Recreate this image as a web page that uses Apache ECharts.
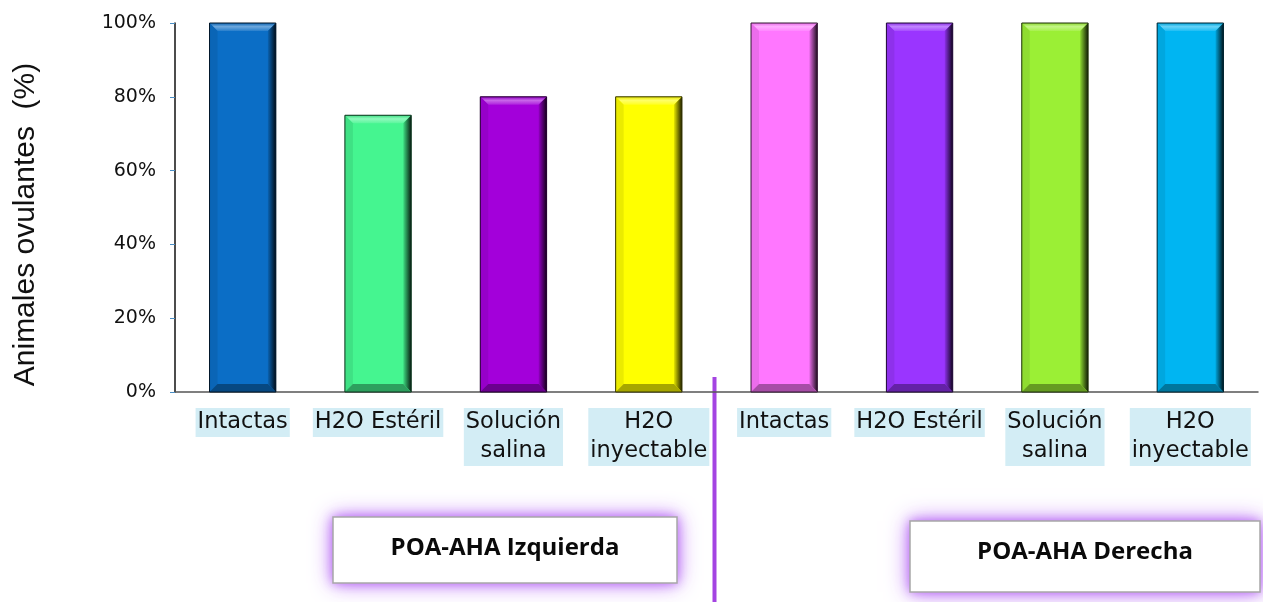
<!DOCTYPE html>
<html>
<head>
<meta charset="utf-8">
<script src="https://cdn.jsdelivr.net/npm/echarts@6/dist/echarts.min.js"></script>
<style>
  html, body { margin: 0; padding: 0; background: #ffffff; }
  #chart { width: 1263px; height: 602px; }
</style>
</head>
<body>
<div id="chart"></div>
<script>
// Ovulating animals per treatment, left and right POA-AHA lesion groups
const categories = [
  'Intactas', 'H2O Estéril', 'Solución\nsalina', 'H2O\ninyectable',
  'Intactas', 'H2O Estéril', 'Solución\nsalina', 'H2O\ninyectable'
];
const ovulantes = [100, 75, 80, 80, 100, 100, 100, 100];
const groupNames = ['POA-AHA Izquierda', 'POA-AHA Derecha'];
const yTicks = [0, 20, 40, 60, 80, 100];

const barColors = ['#0b6ec6', '#45f590', '#a300da', '#ffff00',
                   '#ff77ff', '#9a35ff', '#9bef35', '#00b5f2'];

function mix(hex, target, t) {
  const a = parseInt(hex.slice(1), 16);
  const r = (a >> 16) & 255, g = (a >> 8) & 255, b = a & 255;
  const m = (c) => Math.round(c + (target - c) * t);
  return 'rgb(' + m(r) + ',' + m(g) + ',' + m(b) + ')';
}

// Bevelled bar: face plus four edge facets
function renderBevelBar(params, api) {
  const idx = api.value(0);
  const top = api.coord([idx, api.value(1)]);
  const base = api.coord([idx, 0]);
  const w = api.size([1, 0])[0] * 0.49;
  const x = top[0] - w / 2, y = top[1], h = base[1] - top[1];
  const b = 8;
  const c = barColors[idx];
  return {
    type: 'group',
    children: [
      { type: 'rect', shape: { x: x, y: y, width: w, height: h },
        style: { fill: c } },
      { type: 'polygon',
        shape: { points: [[x, y], [x + w, y], [x + w - b, y + b], [x + b, y + b]] },
        style: { fill: new echarts.graphic.LinearGradient(0, 0, 0, 1, [
          { offset: 0, color: mix(c, 0, 0.1) },
          { offset: 0.45, color: mix(c, 255, 0.4) },
          { offset: 1, color: mix(c, 255, 0.12) }
        ]) } },
      { type: 'polygon',
        shape: { points: [[x, y], [x + b, y + b], [x + b, y + h - b], [x, y + h]] },
        style: { fill: mix(c, 0, 0.08) } },
      { type: 'polygon',
        shape: { points: [[x + w, y], [x + w, y + h], [x + w - b, y + h - b], [x + w - b, y + b]] },
        style: { fill: new echarts.graphic.LinearGradient(0, 0, 1, 0, [
          { offset: 0, color: mix(c, 0, 0.1) },
          { offset: 1, color: mix(c, 0, 0.88) }
        ]) } },
      { type: 'polygon',
        shape: { points: [[x, y + h], [x + w, y + h], [x + w - b, y + h - b], [x + b, y + h - b]] },
        style: { fill: mix(c, 0, 0.35) } },
      { type: 'rect', shape: { x: x, y: y, width: w, height: h },
        style: { fill: 'none', stroke: mix(c, 0, 0.8), lineWidth: 1 } }
    ]
  };
}

const chart = echarts.init(document.getElementById('chart'));

chart.setOption({
  backgroundColor: '#ffffff',
  animation: false,
  grid: { left: 175, right: 5, top: 23, bottom: 210 },
  xAxis: {
    type: 'category',
    data: categories,
    axisLine: { lineStyle: { color: '#555555', width: 1.5 } },
    axisTick: { inside: true, length: 5, lineStyle: { color: '#555555' } },
    axisLabel: {
      interval: 0,
      margin: 16,
      fontFamily: 'DejaVu Sans',
      fontSize: 22.5,
      lineHeight: 29,
      color: '#111111',
      align: 'center',
      backgroundColor: '#d3edf5',
      padding: [0, 2, 0, 2]
    }
  },
  yAxis: {
    type: 'value',
    min: 0,
    max: 100,
    interval: 20,
    name: 'Animales ovulantes  (%)',
    nameLocation: 'middle',
    nameGap: 134,
    nameRotate: 90,
    nameTextStyle: {
      fontFamily: 'Liberation Sans',
      fontSize: 30,
      color: '#111111',
      padding: [0, 34, 0, 0]
    },
    axisLine: { show: true, lineStyle: { color: '#111111', width: 1.5 } },
    axisTick: { show: true, length: 5, lineStyle: { color: '#4a8ec4' } },
    splitLine: { show: false },
    axisLabel: {
      margin: 19,
      fontFamily: 'DejaVu Sans',
      fontSize: 19,
      color: '#111111',
      formatter: (v) => yTicks.includes(v) ? v + '%' : ''
    }
  },
  series: [{
    type: 'custom',
    renderItem: renderBevelBar,
    encode: { x: 0, y: 1 },
    data: ovulantes.map((v, i) => [i, v])
  }]
});

// Divider between the two lesion groups and the group caption boxes
const p3 = chart.convertToPixel({ gridIndex: 0 }, [3, 0]);
const p4 = chart.convertToPixel({ gridIndex: 0 }, [4, 0]);
const divX = (p3[0] + p4[0]) / 2 - 2;

function captionBox(cx, y, w, h, text) {
  const glow = (blur, alpha) => ({
    type: 'rect', shape: { x: cx - w / 2, y: y, width: w, height: h },
    style: { fill: '#ffffff', shadowBlur: blur,
             shadowColor: 'rgba(180, 95, 245, ' + alpha + ')' }
  });
  return {
    type: 'group',
    children: [
      glow(22, 0.9),
      glow(10, 0.9),
      { type: 'rect', shape: { x: cx - w / 2, y: y, width: w, height: h },
        style: { fill: '#ffffff', stroke: '#a8a8a8', lineWidth: 1.5 } },
      { type: 'text', x: cx, y: y + 31,
        style: { text: text, fill: '#0a0a0a', font: 'bold 24px "Open Sans"',
                 align: 'center', verticalAlign: 'middle' } }
    ]
  };
}

chart.setOption({
  graphic: [
    { type: 'line', shape: { x1: divX, y1: 377, x2: divX, y2: 602 },
      style: { stroke: '#a444e2', lineWidth: 4 } },
    captionBox(505, 517, 344, 66, groupNames[0]),
    captionBox(1085, 521, 350, 71, groupNames[1])
  ]
});
</script>
</body>
</html>
